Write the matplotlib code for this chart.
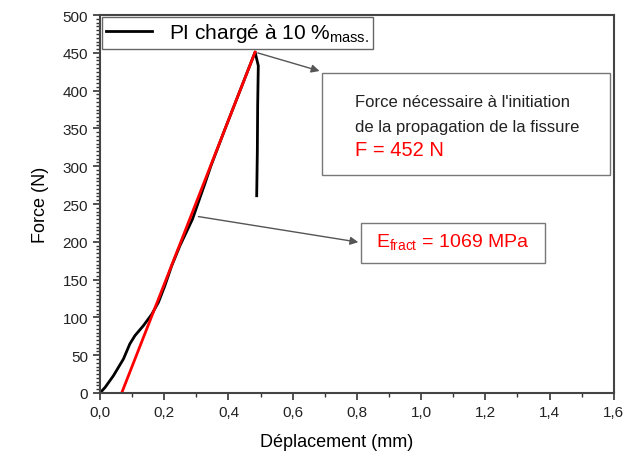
import matplotlib
matplotlib.use("Agg")
import matplotlib.pyplot as plt
from matplotlib.ticker import MultipleLocator, FuncFormatter

plt.rcParams['font.family'] = ['Liberation Sans', 'DejaVu Sans']

# courbe force / deplacement
depl = [0.0, 0.016, 0.042, 0.073, 0.093, 0.109, 0.135, 0.161, 0.182, 0.202,
        0.223, 0.249, 0.268, 0.288, 0.306, 0.325, 0.345, 0.390, 0.436, 0.483,
        0.493, 0.491, 0.490, 0.488]
force = [0, 7.5, 23, 45, 65, 76, 89, 104, 120, 142,
         168, 195, 212, 230, 252, 275, 300, 350, 400, 451,
         433, 380, 320, 261]

# droite de pente (module)
fit_x = [0.0675, 0.483]
fit_y = [0, 451]

fig = plt.figure(figsize=(6.25, 4.6), dpi=100)
ax = fig.add_axes([0.16, 0.1435, 0.822, 0.8215])

ax.plot(depl, force, color='black', lw=2, label='PI chargé à 10 %$_{\\mathregular{mass.}}$')
ax.plot(fit_x, fit_y, color='red', lw=2)

ax.set_xlim(0, 1.6)
ax.set_ylim(0, 500)
ax.xaxis.set_major_locator(MultipleLocator(0.2))
ax.xaxis.set_minor_locator(MultipleLocator(0.1))
ax.yaxis.set_major_locator(MultipleLocator(50))
ax.yaxis.set_minor_locator(MultipleLocator(5))
ax.xaxis.set_major_formatter(FuncFormatter(lambda v, p: f"{v:.1f}".replace('.', ',')))
ax.tick_params(which='both', direction='out', top=False, right=False,
               labelsize=11, color='#333333', labelcolor='#222222')
ax.tick_params(which='major', length=5, width=1.2)
ax.tick_params(which='minor', length=3, width=1)
for s in ax.spines.values():
    s.set_color('#444444')
    s.set_linewidth(1.5)

ax.set_xlabel('Déplacement (mm)', fontsize=13)
ax.xaxis.set_label_coords(0.46, -0.105)
ax.set_ylabel('Force (N)', fontsize=13, labelpad=10)

leg = ax.legend(loc='upper left', bbox_to_anchor=(0.0, 1.0), fontsize=15,
                fancybox=False, framealpha=1, edgecolor='#666666',
                borderpad=0.2, handlelength=2.2, borderaxespad=0.1)
leg.get_frame().set_linewidth(1)

# annotation 1
ax.annotate('', xy=(0.692, 425), xytext=(0.483, 451),
            arrowprops=dict(arrowstyle='-|>', color='#555555', lw=1, mutation_scale=12))
ax.text(0.795, 386, "Force nécessaire à l'initiation", fontsize=12, color='#222222', va='center')
ax.text(0.795, 353, "de la propagation de la fissure", fontsize=12, color='#222222', va='center')
ax.text(0.795, 322, "F = 452 N", fontsize=14.5, color='red', va='center')
ax.add_patch(plt.Rectangle((0.692, 288), 0.897, 135, fill=False,
                           edgecolor='#777777', lw=1))

# annotation 2
ax.annotate('', xy=(0.813, 199), xytext=(0.298, 234),
            arrowprops=dict(arrowstyle='-|>', color='#555555', lw=1, mutation_scale=12))
ax.text(0.86, 200, "E$_{\\mathregular{fract}}$ = 1069 MPa", fontsize=14, color='red', va='center')
ax.add_patch(plt.Rectangle((0.813, 172), 0.573, 53, fill=False,
                           edgecolor='#777777', lw=1))

fig.savefig('out.png', dpi=100)
